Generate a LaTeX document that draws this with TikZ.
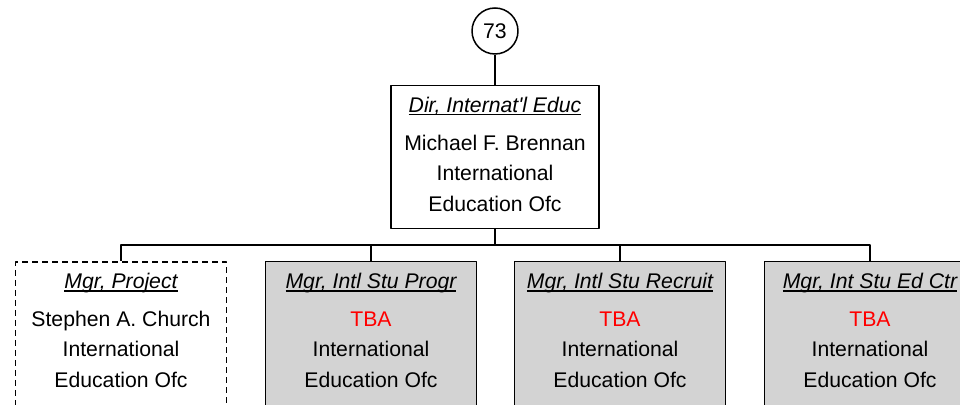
\documentclass[tikz,border=0pt]{standalone}
\usepackage{fontspec}
\setmainfont{Liberation Sans}
\usetikzlibrary{positioning}
\definecolor{boxgray}{RGB}{211,211,211}
\newcommand{\postitle}[1]{\setbox0\hbox{\itshape #1}\rlap{\rule[-1.6pt]{\wd0}{0.7pt}}\box0}
\tikzset{
  unitbox/.style={draw, line width=0.75pt, minimum width=105.5pt, minimum height=100pt, anchor=north, inner sep=0pt},
  vacant/.style={unitbox, fill=boxgray},
  unittext/.style={align=center, inner sep=0pt, font=\fontsize{10.6}{15.25}\selectfont},
}
\begin{document}
\begin{tikzpicture}[x=0.5pt, y=-0.5pt, line width=0.75pt, line join=round]
\useasboundingbox (0,0) rectangle (960,405);
\clip (0,0) rectangle (960,405);
\node[draw, circle, minimum size=23pt, inner sep=0pt, font=\fontsize{10.6}{12}\selectfont] (ref) at (495,31) {73};
\node[unitbox, minimum width=104pt, minimum height=71.5pt] (dir) at (495,85) {};
\node[unittext, below=5.5pt of dir.north] (dirtext) {\postitle{Dir, Internat\textquotesingle l Educ}\\[3.75pt] Michael F. Brennan\\International\\Education Ofc};
% managers
\node[unitbox, dash pattern=on 3pt off 2pt, line width=0.85pt] (proj) at (121,261) {};
\node[vacant] (prog) at (371,261) {};
\node[vacant] (recr) at (620,261) {};
\node[vacant] (edc) at (870,261) {};
\node[unittext, below=5.75pt of proj.north] {\postitle{Mgr, Project}\\[3.5pt] Stephen A. Church\\International\\Education Ofc};
\node[unittext, below=5.75pt of prog.north] {\postitle{Mgr, Intl Stu Progr}\\[3.5pt] \textcolor{red}{TBA}\\International\\Education Ofc};
\node[unittext, below=5.75pt of recr.north] {\postitle{Mgr, Intl Stu Recruit}\\[3.5pt] \textcolor{red}{TBA}\\International\\Education Ofc};
\node[unittext, below=5.75pt of edc.north] {\postitle{Mgr, Int Stu Ed Ctr}\\[3.5pt] \textcolor{red}{TBA}\\International\\Education Ofc};
% lines
\coordinate (bus) at (495,245);
\draw (ref) -- (dir);
\draw (dir.south) -- (bus);
\draw (proj.north) |- (bus) -| (edc.north);
\draw (prog.north) -- (prog.north |- bus);
\draw (recr.north) -- (recr.north |- bus);
\end{tikzpicture}
\end{document}
